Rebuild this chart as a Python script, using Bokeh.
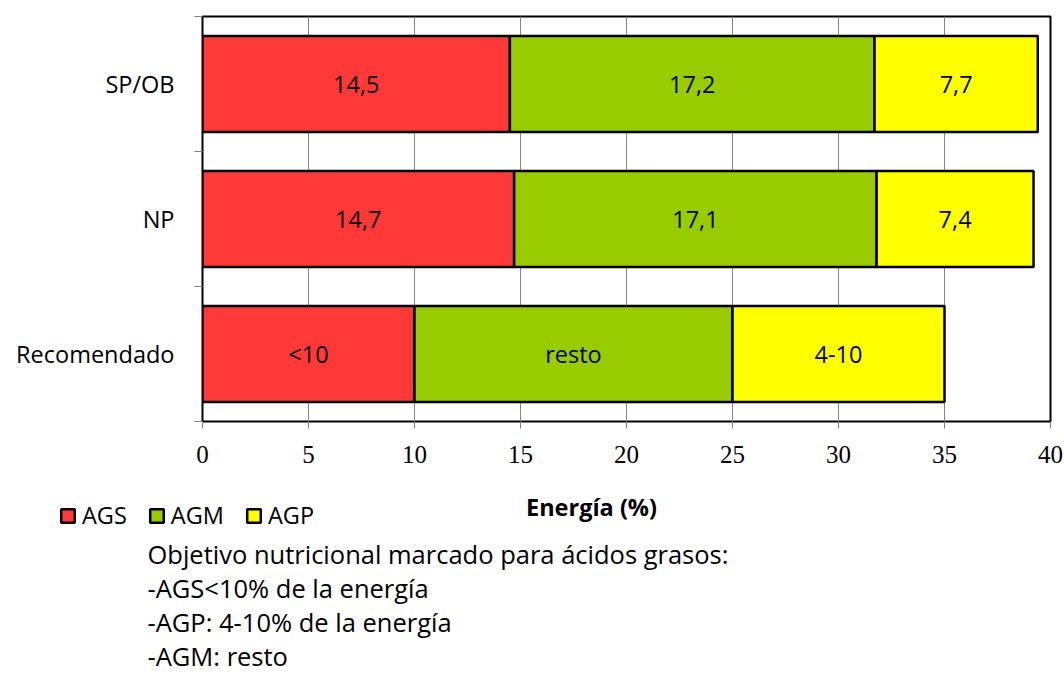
from bokeh.plotting import figure
from bokeh.layouts import column
from bokeh.models import (Range1d, FixedTicker, Label, Legend, LegendItem,
                          ColumnDataSource)
from bokeh.core.properties import value
from bokeh.embed import file_html
from bokeh.resources import INLINE

# ---------------- data ----------------
categories = ["Recomendado", "NP", "SP/OB"]
series = ["AGS", "AGM", "AGP"]
ags = [10, 14.7, 14.5]
agm = [15, 17.1, 17.2]
agp = [10, 7.4, 7.7]
ags_labels = ["<10", "14,7", "14,5"]
agm_labels = ["resto", "17,1", "17,2"]
agp_labels = ["4-10", "7,4", "7,7"]
x_ticks = [0, 5, 10, 15, 20, 25, 30, 35, 40]
axis_title = "Energía (%)"
notes = [
    "Objetivo nutricional marcado para ácidos grasos:",
    "-AGS<10% de la energía",
    "-AGP: 4-10% de la energía",
    "-AGM: resto",
]
colors = ["#FF3838", "#99CC00", "#FFFF00"]

# ---------------- layout constants (page px) ----------------
W, H = 1064, 673
FRAME_L, FRAME_R, FRAME_T, FRAME_B = 202, 1050, 16, 421
SPLIT = 490          # chart figure above, legend/notes figure below

SANS = "Open Sans"
FS = "23.5px"

p = figure(width=W, height=SPLIT,
           x_range=Range1d(0, 40), y_range=Range1d(0, len(categories)),
           output_backend="svg", toolbar_location=None,
           min_border_left=FRAME_L, min_border_right=W - FRAME_R,
           min_border_top=FRAME_T, min_border_bottom=SPLIT - FRAME_B)
p.frame_align = False

p.outline_line_color = "black"
p.outline_line_width = 2
p.background_fill_color = "white"
p.border_fill_color = "white"

# ---------------- bars ----------------
ycent = [i + 0.5 for i in range(len(categories))]
vals = [ags, agm, agp]
labs = [ags_labels, agm_labels, agp_labels]
lefts = [0.0] * len(categories)
tx, ty, tt = [], [], []
for s, v, lab, c in zip(series, vals, labs, colors):
    rights = [l + x for l, x in zip(lefts, v)]
    src = ColumnDataSource(dict(y=ycent, left=lefts, right=rights))
    p.hbar(y="y", left="left", right="right", height=0.711, source=src,
           fill_color=c, line_color="black", line_width=2.5)
    for l, rr, yy, t in zip(lefts, rights, ycent, lab):
        tx.append((l + rr) / 2)
        ty.append(yy)
        tt.append(t)
    lefts = rights

p.text(x="x", y="y", text="t", source=ColumnDataSource(dict(x=tx, y=ty, t=tt)),
       text_align="center", text_baseline="middle",
       text_font=value(SANS), text_font_size=FS, text_color="black")

# ---------------- axes ----------------
p.xaxis.ticker = FixedTicker(ticks=x_ticks)
p.xaxis.axis_line_color = None
p.xaxis.major_tick_out = 7
p.xaxis.major_tick_in = 0
p.xaxis.major_tick_line_color = "#808080"
p.xaxis.minor_tick_line_color = None
p.xaxis.major_label_text_font = "Liberation Serif"
p.xaxis.major_label_text_font_size = "25px"
p.xaxis.major_label_text_color = "black"
p.xaxis.major_label_standoff = 17

p.yaxis.ticker = FixedTicker(ticks=ycent, minor_ticks=list(range(len(categories) + 1)))
p.yaxis.major_label_overrides = {y: c for y, c in zip(ycent, categories)}
p.yaxis.axis_line_color = None
p.yaxis.major_tick_line_color = None
p.yaxis.major_tick_out = 8
p.yaxis.minor_tick_out = 8
p.yaxis.minor_tick_in = 0
p.yaxis.minor_tick_line_color = "#808080"
p.yaxis.major_label_text_font = SANS
p.yaxis.major_label_text_font_size = FS
p.yaxis.major_label_text_color = "black"
p.yaxis.major_label_standoff = 20

p.xgrid.ticker = FixedTicker(ticks=x_ticks)
p.xgrid.grid_line_color = "#868686"
p.xgrid.grid_line_width = 1
p.ygrid.grid_line_color = None

# ---------------- lower figure: legend, axis title, notes ----------------
H2 = H - SPLIT
q = figure(width=W, height=H2, x_range=Range1d(0, W), y_range=Range1d(H, SPLIT),
           output_backend="svg", toolbar_location=None,
           x_axis_location=None, y_axis_location=None,
           min_border=0, min_border_left=0, min_border_right=0,
           min_border_top=0, min_border_bottom=0)
q.frame_align = False
q.outline_line_color = None
q.grid.grid_line_color = None
q.background_fill_color = "white"
q.border_fill_color = "white"

TITLE_X, TITLE_Y = 591, 506

# legend proxy renderers: zero-size marks hidden behind the (white-boxed) axis title
leg_renderers = []
for c in colors:
    src = ColumnDataSource(dict(y=[TITLE_Y], left=[TITLE_X], right=[TITLE_X]))
    r = q.hbar(y="y", left="left", right="right", height=0, source=src,
               fill_color=c, line_color="black", line_width=2.5)
    leg_renderers.append(r)

LEG_X, LEG_TOP, LEG_H = 59, 514, 17
legend = Legend(items=[LegendItem(label=s, renderers=[r]) for s, r in zip(series, leg_renderers)],
                location=(LEG_X, H - LEG_TOP - LEG_H),
                orientation="horizontal", padding=0, margin=0, spacing=21,
                glyph_width=17, glyph_height=17, label_standoff=6, label_height=LEG_H,
                label_text_font=SANS, label_text_font_size=FS, label_text_color="black",
                border_line_color=None, background_fill_alpha=0)
q.add_layout(legend)

q.add_layout(Label(x=TITLE_X, y=TITLE_Y, text=axis_title,
                   text_align="center", text_baseline="middle",
                   text_font=SANS, text_font_size=FS, text_font_style="bold",
                   text_color="black", background_fill_color="white"))

note_y = [553, 587, 621, 655]
for t, yy in zip(notes, note_y):
    q.add_layout(Label(x=147, y=yy, text=t,
                       text_align="left", text_baseline="middle",
                       text_font=SANS, text_font_size="25.5px", text_color="black"))

open("out.html", "w").write(file_html(column(p, q, spacing=0), INLINE))
